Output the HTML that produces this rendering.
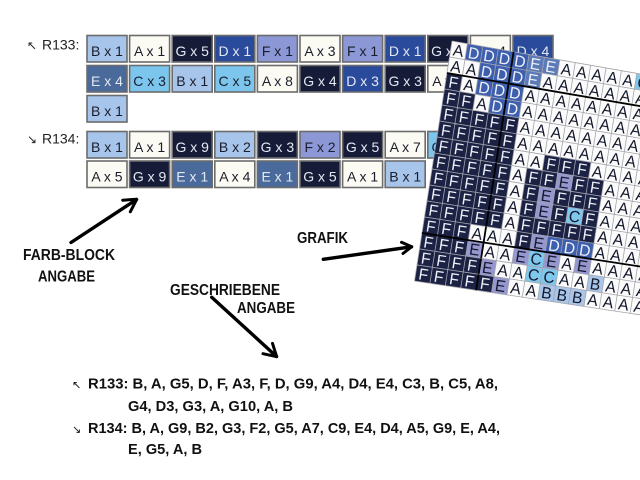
<!DOCTYPE html>
<html>
<head>
<meta charset="utf-8">
<style>
html,body{margin:0;padding:0;background:#fff;}
body{width:640px;height:480px;overflow:hidden;}
svg{display:block;}
.bt{font-family:"Liberation Sans",Arial,sans-serif;font-size:14px;text-anchor:middle;}
.bd{fill:#1b1d2c;}
.bl{fill:#e4e8f2;}
.kB{fill:#a7c5ea;}
.kA{fill:#fcfbf3;}
.kG{fill:#161c38;}
.kD{fill:#2a4a9c;}
.kF{fill:#8c98d6;}
.kE{fill:#4a6a9b;}
.kC{fill:#7cc6ee;}
.blk rect{stroke:#6c6c6c;stroke-width:1.6;}
.a{fill:#fbfbfb;}
.d{fill:#3d5fae;}
.e2{fill:#5b7bb8;}
.E{fill:#9697cf;}
.f{fill:#1c2244;}
.c{fill:#7fc7ec;}
.b{fill:#a9c5e8;}
.gt{font-family:"Liberation Sans",Arial,sans-serif;font-size:10px;text-anchor:middle;}
.lt{fill:#eef0f8;}
.dk{fill:#14182c;}
.lab{font-family:"Liberation Sans",Arial,sans-serif;font-weight:bold;fill:#111;}
.arr{stroke:#000;stroke-linecap:round;stroke-linejoin:round;fill:none;}
</style>
</head>
<body>
<svg width="640" height="480" viewBox="0 0 640 480" xmlns="http://www.w3.org/2000/svg">
<defs>
<path id="gl" d="M0 0H160M0 10H160M0 0V10M10 0V10M20 0V10M30 0V10M40 0V10M50 0V10M60 0V10M70 0V10M80 0V10M90 0V10M100 0V10M110 0V10M120 0V10M130 0V10M140 0V10M150 0V10M160 0V10" fill="none" stroke="#a4a4ac" stroke-width="0.8" vector-effect="non-scaling-stroke"/>
<path id="tk" d="M40 0V10" fill="none" stroke="#000" stroke-width="1.8" vector-effect="non-scaling-stroke"/>
<path id="th" d="M0 0H160" fill="none" stroke="#000" stroke-width="1.8" vector-effect="non-scaling-stroke"/>
</defs>

<!-- top labels -->
<text x="27" y="49.5" font-family="'DejaVu Sans',sans-serif" font-size="12" fill="#222">↖</text>
<text x="42" y="49.5" font-family="'Liberation Sans',Arial,sans-serif" font-size="14" fill="#222">R133:</text>
<text x="27" y="143.5" font-family="'DejaVu Sans',sans-serif" font-size="12" fill="#222">↘</text>
<text x="42" y="143.5" font-family="'Liberation Sans',Arial,sans-serif" font-size="14" fill="#222">R134:</text>

<!-- R133 blocks -->
<g class="blk">
<rect x="87" y="35.5" width="40" height="26.5" class="kB"/>
<rect x="129.6" y="35.5" width="40" height="26.5" class="kA"/>
<rect x="172.2" y="35.5" width="40" height="26.5" class="kG"/>
<rect x="214.8" y="35.5" width="40" height="26.5" class="kD"/>
<rect x="257.4" y="35.5" width="40" height="26.5" class="kF"/>
<rect x="300" y="35.5" width="40" height="26.5" class="kA"/>
<rect x="342.6" y="35.5" width="40" height="26.5" class="kF"/>
<rect x="385.2" y="35.5" width="40" height="26.5" class="kD"/>
<rect x="427.8" y="35.5" width="40" height="26.5" class="kG"/>
<rect x="470.4" y="35.5" width="40" height="26.5" class="kA"/>
<rect x="513" y="35.5" width="40" height="26.5" class="kD"/>

<rect x="87" y="65.5" width="40" height="26.5" class="kE"/>
<rect x="129.6" y="65.5" width="40" height="26.5" class="kC"/>
<rect x="172.2" y="65.5" width="40" height="26.5" class="kB"/>
<rect x="214.8" y="65.5" width="40" height="26.5" class="kC"/>
<rect x="257.4" y="65.5" width="40" height="26.5" class="kA"/>
<rect x="300" y="65.5" width="40" height="26.5" class="kG"/>
<rect x="342.6" y="65.5" width="40" height="26.5" class="kD"/>
<rect x="385.2" y="65.5" width="40" height="26.5" class="kG"/>
<rect x="427.8" y="65.5" width="40" height="26.5" class="kA"/>
<rect x="470.4" y="65.5" width="40" height="26.5" class="kG"/>

<rect x="87" y="95.5" width="40" height="26.5" class="kB"/>

<!-- R134 -->
<rect x="87" y="131.5" width="40" height="26.5" class="kB"/>
<rect x="129.6" y="131.5" width="40" height="26.5" class="kA"/>
<rect x="172.2" y="131.5" width="40" height="26.5" class="kG"/>
<rect x="214.8" y="131.5" width="40" height="26.5" class="kB"/>
<rect x="257.4" y="131.5" width="40" height="26.5" class="kG"/>
<rect x="300" y="131.5" width="40" height="26.5" class="kF"/>
<rect x="342.6" y="131.5" width="40" height="26.5" class="kG"/>
<rect x="385.2" y="131.5" width="40" height="26.5" class="kA"/>
<rect x="427.8" y="131.5" width="40" height="26.5" class="kC"/>
<rect x="470.4" y="131.5" width="40" height="26.5" class="kE"/>

<rect x="87" y="161" width="40" height="26.5" class="kA"/>
<rect x="129.6" y="161" width="40" height="26.5" class="kG"/>
<rect x="172.2" y="161" width="40" height="26.5" class="kE"/>
<rect x="214.8" y="161" width="40" height="26.5" class="kA"/>
<rect x="257.4" y="161" width="40" height="26.5" class="kE"/>
<rect x="300" y="161" width="40" height="26.5" class="kG"/>
<rect x="342.6" y="161" width="40" height="26.5" class="kA"/>
<rect x="385.2" y="161" width="40" height="26.5" class="kB"/>
</g>

<g class="bt">
<text x="107" y="56" class="bd">B x 1</text>
<text x="149.6" y="56" class="bd">A x 1</text>
<text x="192.2" y="56" class="bl">G x 5</text>
<text x="234.8" y="56" class="bl">D x 1</text>
<text x="277.4" y="56" class="bd">F x 1</text>
<text x="320" y="56" class="bd">A x 3</text>
<text x="362.6" y="56" class="bd">F x 1</text>
<text x="405.2" y="56" class="bl">D x 1</text>
<text x="447.8" y="56" class="bl">G x 9</text>
<text x="490.4" y="56" class="bd">A x 4</text>
<text x="533" y="56" class="bl">D x 4</text>

<text x="107" y="86" class="bl">E x 4</text>
<text x="149.6" y="86" class="bd">C x 3</text>
<text x="192.2" y="86" class="bd">B x 1</text>
<text x="234.8" y="86" class="bd">C x 5</text>
<text x="277.4" y="86" class="bd">A x 8</text>
<text x="320" y="86" class="bl">G x 4</text>
<text x="362.6" y="86" class="bl">D x 3</text>
<text x="405.2" y="86" class="bl">G x 3</text>
<text x="447.8" y="86" class="bd">A x 1</text>
<text x="490.4" y="86" class="bl">G x 10</text>

<text x="107" y="116" class="bd">B x 1</text>

<text x="107" y="152" class="bd">B x 1</text>
<text x="149.6" y="152" class="bd">A x 1</text>
<text x="192.2" y="152" class="bl">G x 9</text>
<text x="234.8" y="152" class="bd">B x 2</text>
<text x="277.4" y="152" class="bl">G x 3</text>
<text x="320" y="152" class="bd">F x 2</text>
<text x="362.6" y="152" class="bl">G x 5</text>
<text x="405.2" y="152" class="bd">A x 7</text>
<text x="447.8" y="152" class="bd">C x 9</text>
<text x="490.4" y="152" class="bl">E x 4</text>

<text x="107" y="181.5" class="bd">A x 5</text>
<text x="149.6" y="181.5" class="bl">G x 9</text>
<text x="192.2" y="181.5" class="bl">E x 1</text>
<text x="234.8" y="181.5" class="bd">A x 4</text>
<text x="277.4" y="181.5" class="bl">E x 1</text>
<text x="320" y="181.5" class="bl">G x 5</text>
<text x="362.6" y="181.5" class="bd">A x 1</text>
<text x="405.2" y="181.5" class="bd">B x 1</text>
</g>

<!-- GRID (tilted) -->
<g class="gt">
<g transform="matrix(1.54 0.2695 -0.25 1.6 452 41)">
<rect width="160" height="10" class="a"/><rect x="10" width="40" height="10" class="d"/><rect x="50" width="20" height="10" class="e2"/><rect x="120" width="10" height="10" class="c"/>
<use href="#gl"/><use href="#tk"/>
<text y="8.6"><tspan class="dk" x="5">A</tspan><tspan class="lt" x="15 25 35 45 55 65">DDDDEE</tspan><tspan class="dk" x="75 85 95 105 115 125 135 145 155">AAAAACAAA</tspan></text>
</g>
<g transform="matrix(1.54 0.2667 -0.25 1.6 449.5 57)">
<rect width="160" height="10" class="a"/><rect x="20" width="30" height="10" class="d"/><rect x="50" width="10" height="10" class="e2"/>
<use href="#gl"/><use href="#tk"/>
<text y="8.6"><tspan class="dk" x="5 15">AA</tspan><tspan class="lt" x="25 35 45 55">DDDE</tspan><tspan class="dk" x="65 75 85 95 105 115 125 135 145 155">AAAAAAAAAA</tspan></text>
</g>
<g transform="matrix(1.54 0.2640 -0.25 1.6 447 73)">
<rect width="160" height="10" class="a"/><rect width="10" height="10" class="f"/><rect x="20" width="30" height="10" class="d"/>
<use href="#gl"/><use href="#tk"/><use href="#th"/>
<text y="8.6"><tspan class="lt" x="5">F</tspan><tspan class="dk" x="15">A</tspan><tspan class="lt" x="25 35 45">DDD</tspan><tspan class="dk" x="55 65 75 85 95 105 115 125 135 145 155">AAAAAAAAAAA</tspan></text>
</g>
<g transform="matrix(1.54 0.2612 -0.25 1.6 444.5 89)">
<rect width="160" height="10" class="a"/><rect width="20" height="10" class="f"/><rect x="30" width="20" height="10" class="d"/>
<use href="#gl"/><use href="#tk"/>
<text y="8.6"><tspan class="lt" x="5 15">FF</tspan><tspan class="dk" x="25">A</tspan><tspan class="lt" x="35 45">DD</tspan><tspan class="dk" x="55 65 75 85 95 105 115 125 135 145 155">AAAAAAAAAAA</tspan></text>
</g>
<g transform="matrix(1.54 0.2585 -0.25 1.6 442 105)">
<rect width="160" height="10" class="a"/><rect width="50" height="10" class="f"/>
<use href="#gl"/><use href="#tk"/>
<text y="8.6"><tspan class="lt" x="5 15 25 35 45">FFFFF</tspan><tspan class="dk" x="55 65 75 85 95 105 115 125 135 145 155">AAAAAAAAAAA</tspan></text>
</g>
<g transform="matrix(1.54 0.2558 -0.25 1.6 439.5 121)">
<rect width="160" height="10" class="a"/><rect width="50" height="10" class="f"/>
<use href="#gl"/><use href="#tk"/>
<text y="8.6"><tspan class="lt" x="5 15 25 35 45">FFFFF</tspan><tspan class="dk" x="55 65 75 85 95 105 115 125 135 145 155">AAAAAAAAAAA</tspan></text>
</g>
<g transform="matrix(1.54 0.2530 -0.25 1.6 437 137)">
<rect width="160" height="10" class="a"/><rect width="50" height="10" class="f"/><rect x="70" width="30" height="10" class="f"/>
<use href="#gl"/><use href="#tk"/>
<text y="8.6"><tspan class="lt" x="5 15 25 35 45">FFFFF</tspan><tspan class="dk" x="55 65">AA</tspan><tspan class="lt" x="75 85 95">FFF</tspan><tspan class="dk" x="105 115 125 135 145 155">AAAAAA</tspan></text>
</g>
<g transform="matrix(1.54 0.2503 -0.25 1.6 434.5 153)">
<rect width="160" height="10" class="a"/><rect width="50" height="10" class="f"/><rect x="60" width="20" height="10" class="f"/><rect x="80" width="10" height="10" class="E"/><rect x="90" width="20" height="10" class="f"/>
<use href="#gl"/><use href="#tk"/>
<text y="8.6"><tspan class="lt" x="5 15 25 35 45">FFFFF</tspan><tspan class="dk" x="55">A</tspan><tspan class="lt" x="65 75">FF</tspan><tspan class="dk" x="85">E</tspan><tspan class="lt" x="95 105">FF</tspan><tspan class="dk" x="115 125 135 145 155">AAAAA</tspan></text>
</g>
<g transform="matrix(1.54 0.2475 -0.25 1.6 432 169)">
<rect width="160" height="10" class="a"/><rect width="50" height="10" class="f"/><rect x="60" width="10" height="10" class="f"/><rect x="70" width="10" height="10" class="E"/><rect x="80" width="30" height="10" class="f"/>
<use href="#gl"/><use href="#tk"/>
<text y="8.6"><tspan class="lt" x="5 15 25 35 45">FFFFF</tspan><tspan class="dk" x="55">A</tspan><tspan class="lt" x="65">F</tspan><tspan class="dk" x="75">E</tspan><tspan class="lt" x="85 95 105">FFF</tspan><tspan class="dk" x="115 125 135 145 155">AAAAA</tspan></text>
</g>
<g transform="matrix(1.54 0.2448 -0.25 1.6 429.5 185)">
<rect width="160" height="10" class="a"/><rect width="50" height="10" class="f"/><rect x="60" width="10" height="10" class="f"/><rect x="70" width="10" height="10" class="E"/><rect x="80" width="10" height="10" class="f"/><rect x="90" width="10" height="10" class="c"/><rect x="100" width="10" height="10" class="f"/>
<use href="#gl"/><use href="#tk"/>
<text y="8.6"><tspan class="lt" x="5 15 25 35 45">FFFFF</tspan><tspan class="dk" x="55">A</tspan><tspan class="lt" x="65">F</tspan><tspan class="dk" x="75">E</tspan><tspan class="lt" x="85">F</tspan><tspan class="dk" x="95">C</tspan><tspan class="lt" x="105">F</tspan><tspan class="dk" x="115 125 135 145 155">AAAAA</tspan></text>
</g>
<g transform="matrix(1.54 0.2420 -0.25 1.6 427 201)">
<rect width="160" height="10" class="a"/><rect width="50" height="10" class="f"/><rect x="60" width="50" height="10" class="f"/>
<use href="#gl"/><use href="#tk"/>
<text y="8.6"><tspan class="lt" x="5 15 25 35 45">FFFFF</tspan><tspan class="dk" x="55">A</tspan><tspan class="lt" x="65 75 85 95 105">FFFFF</tspan><tspan class="dk" x="115 125 135 145 155">AAAAA</tspan></text>
</g>
<g transform="matrix(1.54 0.2393 -0.25 1.6 424.5 217)">
<rect width="160" height="10" class="a"/><rect width="30" height="10" class="f"/><rect x="60" width="10" height="10" class="f"/><rect x="70" width="10" height="10" class="E"/><rect x="80" width="30" height="10" class="d"/>
<use href="#gl"/><use href="#tk"/>
<text y="8.6"><tspan class="lt" x="5 15 25">FFF</tspan><tspan class="dk" x="35 45 55">AAA</tspan><tspan class="lt" x="65">F</tspan><tspan class="dk" x="75">E</tspan><tspan class="lt" x="85 95 105">DDD</tspan><tspan class="dk" x="115 125 135 145 155">AAAAA</tspan></text>
</g>
<g transform="matrix(1.54 0.2365 -0.25 1.6 422 233)">
<rect width="160" height="10" class="a"/><rect width="30" height="10" class="f"/><rect x="30" width="10" height="10" class="E"/><rect x="60" width="10" height="10" class="E"/><rect x="70" width="10" height="10" class="c"/><rect x="80" width="10" height="10" class="E"/><rect x="100" width="10" height="10" class="E"/>
<use href="#gl"/><use href="#tk"/><use href="#th"/>
<text y="8.6"><tspan class="lt" x="5 15 25">FFF</tspan><tspan class="dk" x="35 45 55 65 75 85 95 105 115 125 135 145 155">EAAECEAEAAAAA</tspan></text>
</g>
<g transform="matrix(1.54 0.2338 -0.25 1.6 419.5 249)">
<rect width="160" height="10" class="a"/><rect width="40" height="10" class="f"/><rect x="40" width="10" height="10" class="E"/><rect x="70" width="20" height="10" class="c"/><rect x="110" width="10" height="10" class="b"/>
<use href="#gl"/><use href="#tk"/>
<text y="8.6"><tspan class="lt" x="5 15 25 35">FFFF</tspan><tspan class="dk" x="45 55 65 75 85 95 105 115 125 135 145 155">EAACCAABAAAA</tspan></text>
</g>
<g transform="matrix(1.54 0.2310 -0.25 1.6 417 265)">
<rect width="160" height="10" class="a"/><rect width="50" height="10" class="f"/><rect x="50" width="10" height="10" class="E"/><rect x="80" width="30" height="10" class="b"/>
<use href="#gl"/><use href="#tk"/>
<text y="8.6"><tspan class="lt" x="5 15 25 35 45">FFFFF</tspan><tspan class="dk" x="55 65 75 85 95 105 115 125 135 145 155">EAABBBAAAAA</tspan></text>
</g>
</g>

<!-- arrows -->
<g class="arr">
<line x1="71" y1="242.5" x2="136.5" y2="199.5" stroke-width="3.4"/>
<polyline points="122.7,200.2 136.7,199.3 130.3,211.8" stroke-width="3"/>
<line x1="323.3" y1="259.3" x2="411.5" y2="246.8" stroke-width="3.4"/>
<polyline points="401.5,242.3 411.7,246.7 403,253.5" stroke-width="3"/>
<line x1="211.7" y1="297.3" x2="276.5" y2="356.5" stroke-width="3.4"/>
<polyline points="263,353.7 276.7,356.7 272.5,343.4" stroke-width="3"/>
</g>

<!-- handwritten labels -->
<text class="lab" x="23" y="260" font-size="15.5" textLength="92" lengthAdjust="spacingAndGlyphs">FARB-BLOCK</text>
<text class="lab" x="38" y="281.5" font-size="15.5" textLength="57" lengthAdjust="spacingAndGlyphs">ANGABE</text>
<text class="lab" x="297" y="243" font-size="15.5" textLength="51" lengthAdjust="spacingAndGlyphs">GRAFIK</text>
<text class="lab" x="170" y="295" font-size="15.5" textLength="110" lengthAdjust="spacingAndGlyphs">GESCHRIEBENE</text>
<text class="lab" x="237" y="313" font-size="15.5" textLength="58" lengthAdjust="spacingAndGlyphs">ANGABE</text>

<!-- written list -->
<text x="72" y="388.5" font-family="'DejaVu Sans',sans-serif" font-size="11" fill="#111">↖</text>
<text class="lab" x="88" y="388.5" font-size="14.7" textLength="410" lengthAdjust="spacingAndGlyphs">R133: B, A, G5, D, F, A3, F, D, G9, A4, D4, E4, C3, B, C5, A8,</text>
<text class="lab" x="128" y="411" font-size="14.7" textLength="165" lengthAdjust="spacingAndGlyphs">G4, D3, G3, A, G10, A, B</text>
<text x="72" y="433" font-family="'DejaVu Sans',sans-serif" font-size="11" fill="#111">↘</text>
<text class="lab" x="88" y="433" font-size="14.7" textLength="412" lengthAdjust="spacingAndGlyphs">R134: B, A, G9, B2, G3, F2, G5, A7, C9, E4, D4, A5, G9, E, A4,</text>
<text class="lab" x="128" y="454" font-size="14.7" textLength="74" lengthAdjust="spacingAndGlyphs">E, G5, A, B</text>
</svg>
</body>
</html>
